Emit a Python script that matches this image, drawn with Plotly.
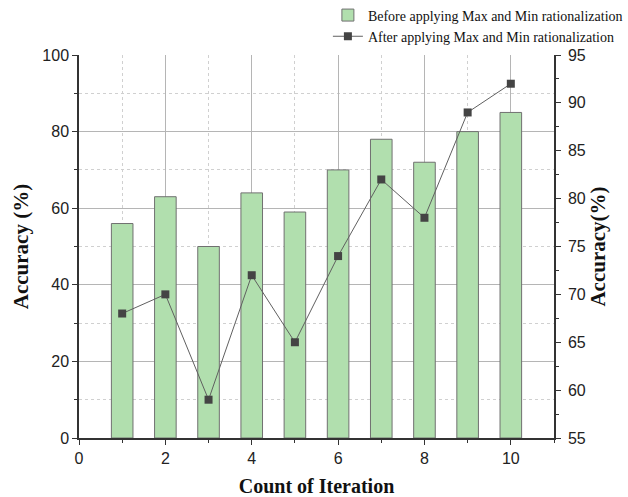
import plotly.graph_objects as go

# Iteration counts and accuracy values
iterations = [1, 2, 3, 4, 5, 6, 7, 8, 9, 10]
acc_before = [56, 63, 50, 64, 59, 70, 78, 72, 80, 85]
acc_after = [68, 70, 59, 72, 65, 74, 82, 78, 89, 92]

name_before = "Before applying Max and Min rationalization"
name_after = "After applying Max and Min rationalization"

SANS = "Liberation Sans, Arial, sans-serif"
SERIF = "Liberation Serif, Times New Roman, serif"
AXIS_COLOR = "#333333"

fig = go.Figure()

fig.add_trace(go.Bar(
    x=iterations, y=acc_before, name=name_before,
    width=0.5,
    marker=dict(color="#b1dfae", line=dict(color="#707070", width=1)),
    yaxis="y",
))

fig.add_trace(go.Scatter(
    x=iterations, y=acc_after, name=name_after,
    mode="lines+markers",
    line=dict(color="#606060", width=1),
    marker=dict(symbol="square", size=8, color="#444444"),
    yaxis="y2",
))

fig.update_layout(
    width=628, height=497,
    margin=dict(l=79, r=74, t=55, b=59, autoexpand=False),
    plot_bgcolor="white", paper_bgcolor="white",
    showlegend=True,
    legend=dict(
        x=0.524, y=1.145, xanchor="left", yanchor="top",
        font=dict(family=SERIF, size=14, color="#111111"),
        bgcolor="rgba(0,0,0,0)", tracegroupgap=0,
        itemwidth=30,
    ),
    bargap=0.5,
    xaxis=dict(
        range=[0, 11], tick0=0, dtick=2,
        showline=True, linecolor=AXIS_COLOR, linewidth=2,
        ticks="outside", ticklen=5, tickcolor=AXIS_COLOR, tickwidth=1,
        tickfont=dict(family=SANS, size=16, color="#222222"),
        showgrid=True, gridcolor="#b5b5b5", gridwidth=1,
        minor=dict(dtick=1, tick0=0, ticks="outside", ticklen=3,
                   tickcolor=AXIS_COLOR, showgrid=True,
                   gridcolor="#d0d0d0", griddash="dot", gridwidth=1),
        zeroline=False, automargin=False,
        title=dict(text="<b>Count of Iteration</b>",
                   font=dict(family=SERIF, size=20, color="#111111"),
                   standoff=14),
    ),
    yaxis=dict(
        range=[0, 100], tick0=0, dtick=20,
        showline=True, linecolor=AXIS_COLOR, linewidth=1.5,
        ticks="outside", ticklen=5, tickcolor=AXIS_COLOR, tickwidth=1,
        tickfont=dict(family=SANS, size=16, color="#222222"),
        showgrid=True, gridcolor="#b5b5b5", gridwidth=1,
        minor=dict(dtick=10, tick0=0, ticks="outside", ticklen=3,
                   tickcolor=AXIS_COLOR, showgrid=True,
                   gridcolor="#d0d0d0", griddash="dot", gridwidth=1),
        zeroline=False, automargin=False,
        title=dict(text="<b>Accuracy (%)</b>",
                   font=dict(family=SERIF, size=21, color="#111111"),
                   standoff=8),
    ),
    yaxis2=dict(
        overlaying="y", side="right",
        range=[55, 95], tick0=55, dtick=5,
        showline=True, linecolor=AXIS_COLOR, linewidth=1.5,
        ticks="outside", ticklen=5, tickcolor=AXIS_COLOR, tickwidth=1,
        tickfont=dict(family=SANS, size=16, color="#222222"),
        ticklabelstandoff=4,
        showgrid=False, zeroline=False, automargin=False,
        minor=dict(dtick=2.5, tick0=55, ticks="outside", ticklen=3,
                   tickcolor=AXIS_COLOR, showgrid=False),
        title=dict(text="<b>Accuracy(%)</b>",
                   font=dict(family=SERIF, size=21, color="#111111"),
                   standoff=4),
    ),
)

fig.write_html("out.html")
